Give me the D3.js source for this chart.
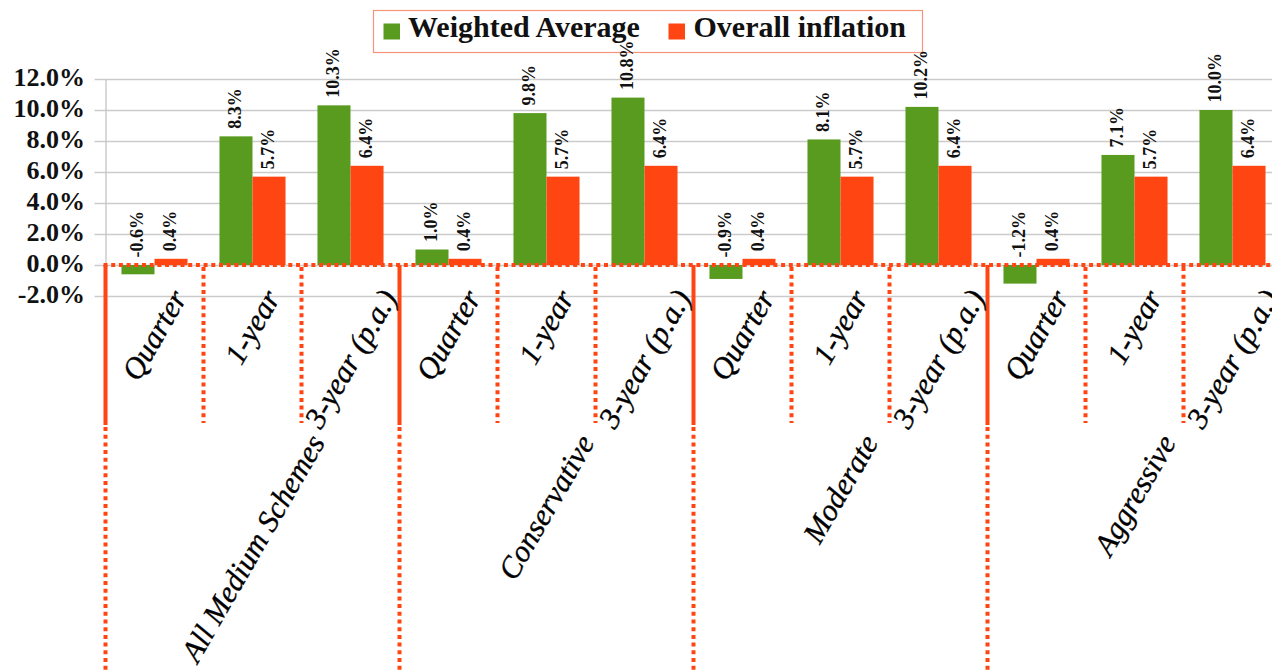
<!DOCTYPE html>
<html>
<head>
<meta charset="utf-8">
<script src="https://cdn.jsdelivr.net/npm/d3@7"></script>
<style>
  html, body { margin: 0; padding: 0; background: #ffffff; }
  svg { display: block; }
</style>
</head>
<body>
<svg id="chart" width="1272" height="670"></svg>
<script>
// Scheme groups (outer category row) and return periods (inner category row)
const groups = ["All Medium Schemes", "Conservative", "Moderate", "Aggressive"];
const periods = ["Quarter", "1-year", "3-year (p.a.)"];

// Returns in percent, one value per group/period pair
const weightedAverage = [-0.6, 8.3, 10.3, 1.0, 9.8, 10.8, -0.9, 8.1, 10.2, -1.2, 7.1, 10.0];
const overallInflation = [0.4, 5.7, 6.4, 0.4, 5.7, 6.4, 0.4, 5.7, 6.4, 0.4, 5.7, 6.4];

// Value axis ticks
const yTicks = [-2, 0, 2, 4, 6, 8, 10, 12];

const seriesNames = ["Weighted Average", "Overall inflation"];
const GREEN = "#589b1e";
const RED = "#ff4512";

const svg = d3.select("#chart");

const plotLeft = 105.5, plotRight = 1281.5;
const level1Bottom = 425;

// flat list of inner categories
const cats = [];
groups.forEach((g, gi) => periods.forEach((p, pi) => cats.push({ id: gi + "|" + pi, group: g, period: p, i: gi * periods.length + pi })));

const x = d3.scaleBand().domain(cats.map(d => d.id)).range([plotLeft, plotRight]).padding(0);
const xg = d3.scaleBand().domain(groups).range([plotLeft, plotRight]).padding(0);
const y = d3.scaleLinear().domain([-2, 12]).range([296, 79]);
const barW = x.bandwidth() * 0.337;
const fmt = v => v.toFixed(1) + "%";

// gridlines with outside tick stubs
const yAxis = d3.axisLeft(y).tickValues(yTicks).tickFormat("");
const gAxis = svg.append("g").attr("transform", `translate(${plotLeft},0)`).call(yAxis);
gAxis.select(".domain").remove();
gAxis.selectAll(".tick line")
  .attr("x1", -11).attr("x2", plotRight - plotLeft)
  .attr("stroke", "#cbcbcb").attr("stroke-width", 1.3);

// vertical value axis line
svg.append("line")
  .attr("x1", plotLeft + 0.5).attr("x2", plotLeft + 0.5)
  .attr("y1", y(12)).attr("y2", y(-2))
  .attr("stroke", "#c4c4c4").attr("stroke-width", 1.3);

// y tick labels
svg.append("g").selectAll("text").data(yTicks).join("text")
  .attr("x", 85).attr("y", d => y(d) + 7)
  .attr("text-anchor", "end")
  .attr("font-family", "'Liberation Serif', 'Times New Roman', serif")
  .attr("font-weight", "bold").attr("font-size", 26)
  .attr("fill", "#111")
  .text(d => d.toFixed(1) + "%");

// bars
const barData = [];
cats.forEach(c => {
  barData.push({ c, s: 0, v: weightedAverage[c.i] });
  barData.push({ c, s: 1, v: overallInflation[c.i] });
});
const cx = c => x(c.id) + x.bandwidth() / 2;
const barX = d => cx(d.c) - barW + d.s * barW;

svg.append("g").selectAll("rect").data(barData).join("rect")
  .attr("x", barX)
  .attr("width", barW)
  .attr("y", d => y(Math.max(0, d.v)))
  .attr("height", d => Math.abs(y(d.v) - y(0)))
  .attr("fill", d => d.s === 0 ? GREEN : RED);

// category dividers
const dots = "4,3.7";
const lines = svg.append("g").attr("stroke", RED).attr("stroke-width", 4).attr("fill", "none");
cats.forEach((c, k) => {
  const xx = x(c.id);
  if (k % periods.length === 0) {
    lines.append("line").attr("x1", xx).attr("x2", xx).attr("y1", y(0)).attr("y2", level1Bottom);
  } else {
    lines.append("line").attr("x1", xx).attr("x2", xx).attr("y1", y(0) + 2).attr("y2", level1Bottom - 2)
      .attr("stroke-dasharray", dots);
  }
});
groups.concat(["_end"]).forEach((g, k) => {
  const xx = plotLeft + k * xg.bandwidth();
  lines.append("line").attr("x1", xx).attr("x2", xx).attr("y1", level1Bottom + 2).attr("y2", 672)
    .attr("stroke-dasharray", dots);
});

// category axis line at zero
lines.append("line")
  .attr("x1", plotLeft - 2).attr("x2", plotRight)
  .attr("y1", y(0)).attr("y2", y(0))
  .attr("stroke-dasharray", dots);

// legend
const legend = svg.append("g");
legend.append("rect")
  .attr("x", 373.5).attr("y", 10.5).attr("width", 549).attr("height", 42)
  .attr("fill", "none").attr("stroke", "#f6937b").attr("stroke-width", 1.2);
const legItems = [
  { name: seriesNames[0], color: GREEN, sx: 383.5, tx: 408 },
  { name: seriesNames[1], color: RED, sx: 668.5, tx: 693.5 }
];
legItems.forEach(it => {
  legend.append("rect").attr("x", it.sx).attr("y", 23.5).attr("width", 16.5).attr("height", 16).attr("fill", it.color);
  legend.append("text").attr("x", it.tx).attr("y", 37)
    .attr("font-family", "'Liberation Serif', 'Times New Roman', serif")
    .attr("font-weight", "bold").attr("font-size", 30).attr("fill", "#111")
    .text(it.name);
});

// value labels, rotated, just above each bar (or above the zero line)
svg.append("g").selectAll("text").data(barData).join("text")
  .attr("transform", d => `translate(${barX(d) + barW / 2 - 1},${y(Math.max(0, d.v)) - 7.5}) rotate(-90)`)
  .attr("text-anchor", "start")
  .attr("dominant-baseline", "central")
  .attr("font-family", "'Liberation Serif', 'Times New Roman', serif")
  .attr("font-weight", "bold").attr("font-size", 18).attr("fill", "#111")
  .text(d => fmt(d.v));

// rotated category labels, centred over their slot
const ANG = 60;
const a = ANG * Math.PI / 180;
function placeRotated(sel, centerX, top) {
  const bb = sel.node().getBBox();
  const pts = [[bb.x, bb.y], [bb.x + bb.width, bb.y], [bb.x, bb.y + bb.height], [bb.x + bb.width, bb.y + bb.height]]
    .map(([px, py]) => [px * Math.cos(a) + py * Math.sin(a), -px * Math.sin(a) + py * Math.cos(a)]);
  const minX = d3.min(pts, p => p[0]), maxX = d3.max(pts, p => p[0]), minY = d3.min(pts, p => p[1]);
  const tx = centerX - (minX + maxX) / 2;
  const ty = top - minY;
  sel.attr("transform", `translate(${tx},${ty}) rotate(${-ANG})`);
}
const catFont = sel => sel
  .attr("font-family", "'Liberation Serif', 'Times New Roman', serif")
  .attr("font-style", "italic").attr("font-size", 30.5).attr("fill", "#000")
  .attr("stroke", "#000").attr("stroke-width", 0.35);

const l1 = svg.append("g");
cats.forEach(c => {
  const t = l1.append("text").call(catFont).text(c.period);
  placeRotated(t, cx(c), 284);
});
const l2 = svg.append("g");
groups.forEach(g => {
  const t = l2.append("text").call(catFont).text(g);
  placeRotated(t, xg(g) + xg.bandwidth() / 2, 429);
});
</script>
</body>
</html>
